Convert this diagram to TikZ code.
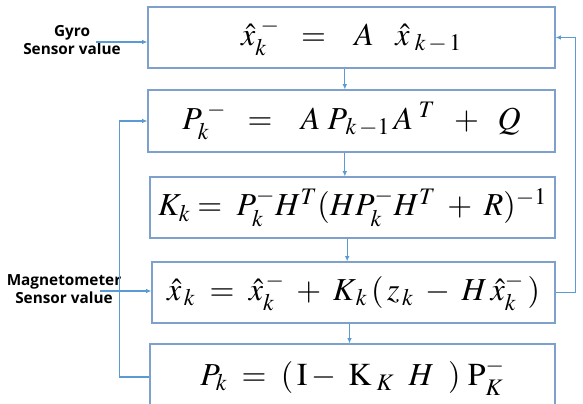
\documentclass[tikz,border=0pt]{standalone}
\usepackage{mathptmx}
\usepackage[no-math]{fontspec}
\newfontfamily\lblfont{Open Sans}[BoldFont={Open Sans Bold}]
\usetikzlibrary{arrows.meta}
\definecolor{boxblue}{RGB}{126,160,204}
\definecolor{lineblue}{RGB}{91,155,213}
\tikzset{
  eqbox/.style={draw=boxblue,line width=0.9pt,minimum width=305.25pt,minimum height=45.75pt,
    inner sep=0pt,font=\fontsize{24}{28}\selectfont},
  flow/.style={draw=lineblue,line width=0.8pt,-{Latex[length=4pt,width=3.5pt]}},
  sensor/.style={font=\lblfont\bfseries\fontsize{11.5}{13.5}\selectfont,align=center,inner sep=0pt}
}
\begin{document}
\begin{tikzpicture}[x=0.75pt,y=-0.75pt]
\useasboundingbox (0,0) rectangle (583,404);
% Kalman filter steps
\node[eqbox] (pred) at (351.5,37.5) {$\hat{x}_{k}^{\;-} \;\;=\;\;\; A\;\;\;\hat{x}_{\;k\,-\,1}$};
\node[eqbox,minimum height=46.5pt] (covpred) at (351.5,121) {$P_{k}^{\;-} \;\;=\;\;\; A\;P_{\,k\,-1}\,A^{\;T} \;\;+\;\; Q$};
\node[eqbox,minimum width=303.75pt] (gain) at (352.5,207.5) {$K_k = \;P_k^{-}H^{T}(HP_k^{-}H^{T} \;+\; R)^{-1}$};
\node[eqbox,minimum width=302.25pt] (upd) at (353.5,292.5) {$\hat{x}_{\,k} \;=\; \hat{x}_{k}^{\,-} \;+\; K_{\,k}\,(\,z_{\,k} \;-\; H\,\hat{x}_{k}^{-}\,)$};
\node[eqbox,minimum width=303.75pt,minimum height=49.5pt] (covupd) at (352.5,377) {$P_{k} \;=\; (\,\mathrm{I}-\;\mathrm{K}_{\;K}\;\;H\;\;)\;\mathrm{P}_{K}^{-}$};
% sensors
\node[sensor] (gyro) at (72,40) {Gyro\\Sensor value};
\node[sensor] (mag) at (64,289) {Magnetometer\\Sensor value};
\coordinate (gyroin) at (96,42);
\coordinate (magin) at (100,291);
\draw[flow] (gyroin) -- (gyroin -| pred.west);
\draw[flow] (magin) -- (magin -| upd.west);
% arrows
\draw[flow] ([xshift=-5pt]pred.south) -- ([xshift=-5pt]pred.south |- covpred.north);
\draw[flow] ([xshift=-5pt]covpred.south) -- ([xshift=-5pt]covpred.south |- gain.north);
\draw[flow] ([xshift=-4pt]gain.south) -- ([xshift=-4pt]gain.south |- upd.north);
\draw[flow] ([xshift=-3pt]upd.south) -- ([xshift=-3pt]upd.south |- covupd.north);
\draw[flow] (upd.east) -- ++(20,0) |- (pred.east);
\draw[flow] (covupd.west) -- ++(-30,0) |- (covpred.west);
\end{tikzpicture}
\end{document}
